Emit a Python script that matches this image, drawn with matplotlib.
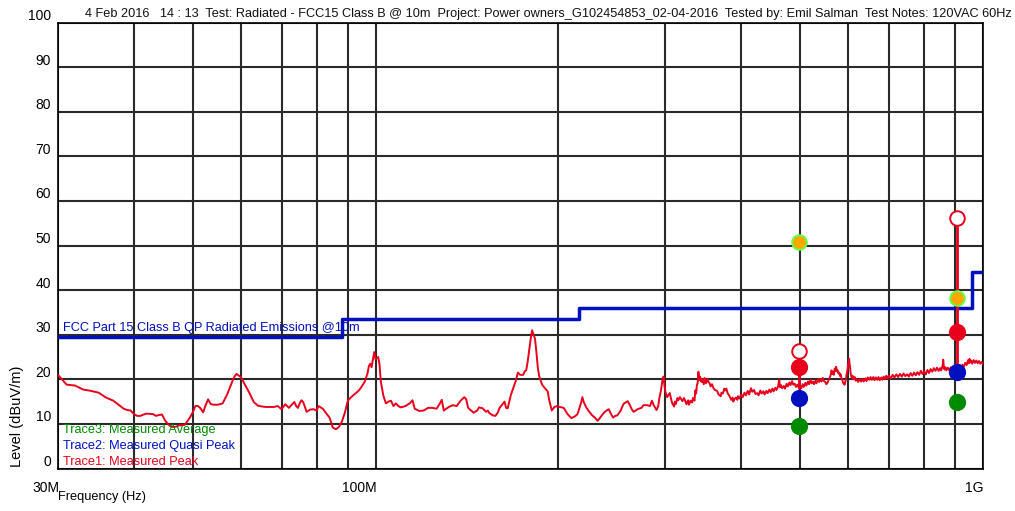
import matplotlib
matplotlib.use("Agg")
import matplotlib.pyplot as plt
import matplotlib.transforms as mtransforms
from matplotlib.ticker import FixedLocator, NullFormatter

# ---------------- data ----------------
title_text = ("4 Feb 2016   14 : 13  Test: Radiated - FCC15 Class B @ 10m  Project: Power "
              "owners_G102454853_02-04-2016  Tested by: Emil Salman  Test Notes: 120VAC 60Hz")

y_ticks = [0, 10, 20, 30, 40, 50, 60, 70, 80, 90, 100]
x_major_mhz = [30, 100, 1000]
x_major_labels = ["30M", "100M", "1G"]
x_minor_mhz = [40, 50, 60, 70, 80, 90, 200, 300, 400, 500, 600, 700, 800, 900]

limit_freq_mhz = [30, 88, 216, 960, 1000]
limit_level = [29.5, 33.5, 36.0, 44.0]

trace_freq_mhz = [
    30, 31, 32, 33, 34, 35, 36, 37, 38, 38.5, 39, 39.5, 40, 40.5, 41, 41.5, 42, 43, 43.5, 44,
    44.5, 45, 45.5, 46, 46.5, 47, 47.5, 48, 48.5, 49, 49.5, 50, 50.5, 51, 51.5, 52, 52.5, 53,
    53.5, 54, 55, 56, 57, 58, 58.5, 59, 60, 61, 62, 63, 64, 65, 66, 67, 68, 69, 70, 71, 72, 73,
    73.5, 74, 74.5, 75, 75.5, 76, 77, 78, 79, 80, 80.5, 81, 82, 83, 84, 85, 86, 87, 88, 89, 90,
    91, 92, 93, 94, 95, 96, 97, 97.5, 98, 98.5, 99, 99.5, 100, 101, 101.5, 102, 103, 104, 105,
    106, 107, 108, 109, 110, 112, 114, 115, 116, 118, 120, 122, 124, 126, 127.5, 128.5, 129.5,
    132, 134, 136, 138, 139, 140, 141, 142, 145, 147, 148, 150, 152, 153, 154, 156, 157.5, 159,
    160, 162, 163, 164, 165, 167, 170, 171.5, 173, 175, 176, 177, 178, 179, 180, 181, 182, 183,
    184, 185, 186, 188, 190, 192, 193, 195, 197, 199, 201, 204, 207, 210, 213, 215, 218, 219,
    220, 222, 224, 227, 230, 232, 234, 236, 238, 240, 242, 244, 246, 248, 250, 253, 256, 260,
    262, 264, 266, 270, 274, 276, 280, 283, 285, 287, 290, 292, 293, 295, 297, 298, 299,
    300, 302, 305, 307, 308, 310, 311, 312, 314, 315, 317, 320, 322, 325, 327, 328, 330, 332,
    333, 335, 336, 337, 338, 339, 340, 341, 342, 344, 345, 347, 348, 349, 350, 352, 353, 355,
    356, 358, 360, 362, 365, 367, 370, 371, 373, 375, 376, 378, 380, 382, 385, 387, 388, 390,
    392, 394, 395, 397, 400, 402, 405, 407, 410, 412, 415, 417, 420, 422, 425, 427, 430, 432,
    435, 437, 440, 442, 445, 447, 450, 452, 455, 457, 460, 462, 463, 465, 467, 470, 472, 475,
    477, 480, 482, 485, 487, 490, 492, 495, 497, 500, 502, 505, 507, 510, 512, 515, 517, 520,
    522, 525, 527, 530, 532, 535, 537, 540, 542, 545, 547, 550, 552, 555, 557, 560, 562, 563,
    565, 566, 568, 570, 572, 573, 575, 576, 578, 580, 582, 583, 585, 586, 588, 590, 592, 593,
    595, 596, 598, 600, 601, 602, 603, 604, 605, 606, 608, 610, 612, 615, 617, 620, 623, 626,
    630, 633, 636, 640, 643, 646, 650, 653, 656, 660, 663, 666, 670, 673, 676, 680, 683, 686,
    690, 693, 696, 700, 705, 710, 715, 720, 725, 730, 735, 740, 745, 750, 755, 760, 765, 770,
    775, 780, 785, 790, 795, 800, 805, 810, 815, 820, 825, 830, 835, 840, 845, 850, 853, 856,
    858, 860, 862, 864, 867, 870, 875, 880, 885, 890, 895, 900, 905, 910, 915, 920, 925, 930,
    935, 940, 945, 948, 950, 953, 956, 960, 965, 970, 975, 980, 985, 990, 995, 1000]

trace_level = [
    21.0, 18.8, 18.6, 17.7, 17.4, 17.0, 15.9, 15.2, 14.0, 13.4, 13.1, 13.0, 12.2, 11.8, 11.8,
    12.1, 12.3, 12.2, 11.8, 12.0, 12.1, 10.8, 10.0, 9.4, 9.3, 9.4, 9.7, 9.7, 9.8, 10.6, 11.5,
    12.6, 14.0, 14.0, 13.5, 12.6, 14.2, 15.5, 14.5, 14.3, 14.3, 14.6, 16.7, 19.3, 20.5, 21.2,
    20.5, 18.7, 16.9, 14.9, 14.1, 13.9, 13.8, 13.8, 13.8, 14.0, 13.3, 14.4, 13.6, 14.5, 14.9,
    14.0, 13.6, 14.6, 15.3, 14.9, 12.7, 13.2, 13.3, 13.0, 14.0, 13.8, 13.3, 12.3, 11.4, 9.2,
    8.8, 9.3, 10.5, 12.5, 15.2, 15.9, 16.5, 17.0, 17.6, 18.5, 19.5, 21.4, 23.0, 23.5, 22.7,
    24.5, 26.1, 24.5, 25.0, 23.3, 19.5, 16.3, 14.6, 15.0, 15.2, 14.0, 14.6, 14.0, 13.7, 14.0,
    14.7, 15.3, 13.4, 12.9, 13.0, 13.6, 13.6, 13.4, 14.5, 15.4, 13.0, 13.8, 14.2, 14.0, 15.2,
    15.6, 16.0, 15.5, 13.6, 12.5, 13.0, 13.7, 13.5, 12.7, 13.0, 12.4, 11.9, 11.8, 12.6, 13.6,
    14.5, 15.0, 13.6, 13.5, 16.5, 19.5, 21.5, 21.0, 21.0, 21.8, 22.0, 24.0, 26.5, 29.0, 31.0,
    30.0, 29.1, 26.0, 22.5, 20.6, 18.8, 18.0, 17.3, 15.5, 13.0, 13.8, 14.0, 13.8, 13.6, 12.2,
    11.3, 11.7, 12.2, 14.8, 16.0, 15.0, 13.8, 13.0, 12.0, 11.3, 10.7, 11.3, 12.0, 12.6, 13.0,
    13.3, 12.3, 11.4, 11.8, 11.9, 12.9, 14.5, 15.1, 14.3, 13.3, 12.7, 13.3, 13.6, 14.2, 14.2,
    14.0, 15.2, 14.2, 13.1, 14.0, 15.6, 17.5, 20.3, 20.6, 18.5,
    17.2, 16.0, 16.9, 15.2, 14.6, 13.9, 15.0, 14.4, 15.8, 15.3, 16.0, 15.1, 15.8, 14.4, 15.3,
    14.3, 15.2, 14.8, 15.8, 15.2, 17.5, 16.8, 18.6, 19.2, 21.7, 19.8, 20.6, 19.4, 20.0, 18.9,
    20.3, 19.5, 19.1, 20.1, 19.5, 19.0, 18.4, 18.9, 18.0, 17.6, 17.4, 16.6, 16.2, 17.0, 16.8,
    17.9, 17.5, 17.9, 16.8, 16.4, 15.4, 15.9, 15.0, 15.6, 15.9, 15.4, 16.2, 15.7, 16.6, 16.0,
    17.0, 16.4, 17.4, 16.6, 18.0, 17.2, 17.6, 16.7, 16.9, 16.4, 17.5, 16.8, 17.3, 16.6, 17.4,
    16.9, 17.7, 17.1, 17.9, 17.3, 18.1, 17.6, 18.5, 19.9, 18.2, 18.7, 18.0, 18.5, 17.9, 19.0,
    18.4, 19.3, 18.7, 19.6, 18.8, 19.0, 18.3, 18.8, 18.2, 18.6, 18.0, 18.9, 18.3, 19.2, 18.6,
    19.5, 18.9, 19.9, 19.1, 19.5, 18.9, 19.7, 19.1, 20.0, 19.4, 20.1, 19.5, 20.3, 19.6, 19.4,
    18.9, 19.3, 19.8, 20.6, 21.2, 22.0, 21.2, 21.7, 21.0, 22.4, 21.8, 22.8, 21.9, 22.1, 21.3,
    21.5, 20.7, 21.1, 20.2, 20.1, 19.3, 19.0, 18.8, 19.3, 20.2, 21.0, 22.0, 23.5, 24.0, 24.6,
    23.4, 23.0, 21.8, 21.0, 20.3, 20.8, 20.0, 20.5, 19.7, 20.0, 19.4, 20.0, 19.5, 20.1, 19.5,
    20.2, 19.6, 20.4, 19.9, 20.5, 19.9, 20.5, 19.8, 20.4, 19.9, 20.5, 19.8, 20.4, 19.9, 20.6,
    20.1, 20.8, 20.2, 20.8, 20.2, 21.0, 20.4, 21.1, 20.5, 21.2, 20.6, 21.3, 20.7, 21.1, 20.6,
    21.4, 20.8, 21.5, 20.9, 21.6, 21.0, 21.9, 21.2, 21.8, 21.1, 22.1, 21.4, 22.3, 21.7, 22.5,
    21.9, 22.6, 21.9, 22.5, 22.0, 22.6, 23.0, 24.4, 22.8, 22.2, 22.7, 22.0, 22.6, 22.0, 22.7,
    22.1, 22.6, 22.1, 22.8, 22.4, 23.2, 22.6, 23.3, 22.8, 23.7, 23.2, 24.3, 23.6, 24.6, 23.8,
    24.2, 23.5, 24.3, 23.7, 24.2, 23.6, 24.1, 23.5, 23.9, 23.4]

# measured points
meas_freq_mhz = [497, 906]
meas_peak_open = [26.3, 56.2]      # open red circles
meas_peak_trace = [17.8, 22.8]     # foot of the red drop lines
meas_other = [50.8, 38.2]          # orange points
meas_peak = [22.7, 30.5]           # Trace1
meas_qp = [15.8, 21.6]             # Trace2
meas_avg = [9.5, 15.0]             # Trace3

limit_label = "FCC Part 15 Class B QP Radiated Emissions @10m"
legend_labels = ["Trace3: Measured Average", "Trace2: Measured Quasi Peak", "Trace1: Measured Peak"]

# ---------------- style ----------------
plt.rcParams["font.family"] = ["Liberation Sans", "DejaVu Sans"]

RED = "#e8001c"
BLUE = "#0010c0"
GREEN = "#008a00"
GRID = "#2a2a2a"

W, H = 1015, 511
fig = plt.figure(figsize=(W / 100, H / 100), dpi=100)
ax = fig.add_axes([58 / W, 1 - 468.5 / H, (983 - 58) / W, (468.5 - 22.5) / H])

ax.set_xscale("log")
ax.set_xlim(30e6, 1000e6)
ax.set_ylim(0, 100)

ax.xaxis.set_major_locator(FixedLocator([f * 1e6 for f in x_major_mhz]))
ax.set_xticklabels(x_major_labels)
ax.xaxis.set_minor_locator(FixedLocator([f * 1e6 for f in x_minor_mhz]))
ax.xaxis.set_minor_formatter(NullFormatter())
ax.set_yticks(y_ticks)
ax.set_yticklabels([str(v) for v in y_ticks])

fs = 9.2
ax.grid(True, which="both", color=GRID, linewidth=1.5)
ax.set_axisbelow(True)
ax.tick_params(which="both", length=0)
ax.tick_params(axis="y", pad=5, labelsize=10)
ax.tick_params(axis="x", pad=9, labelsize=10)
for lab in ax.get_xticklabels():
    lab.set_horizontalalignment("right")
    lab.set_transform(lab.get_transform() + mtransforms.ScaledTranslation(1 / 100, 0, fig.dpi_scale_trans))
for lab in ax.get_yticklabels():
    lab.set_transform(lab.get_transform() + mtransforms.ScaledTranslation(0, 8 / 100, fig.dpi_scale_trans))
for s in ax.spines.values():
    s.set_color("black")
    s.set_linewidth(1.2)

# limit line
lf = [f * 1e6 for f in limit_freq_mhz]
ax.step(lf, limit_level + [limit_level[-1]], where="post", color=BLUE, linewidth=2.5, zorder=3)

# trace
ax.plot([f * 1e6 for f in trace_freq_mhz], trace_level, color=RED, linewidth=1.4, zorder=4)

# measurement markers
mf = [f * 1e6 for f in meas_freq_mhz]
ax.vlines(mf, meas_peak_trace, meas_peak_open, color=RED, linewidth=2, zorder=5)
ax.scatter(mf, meas_peak_open, s=110, facecolors="white", edgecolors=RED, linewidths=1.4, zorder=6)
ax.scatter(mf, meas_other, s=110, color="#ffa800", edgecolors="#66ff44", linewidths=1.4, zorder=6)
ax.scatter(mf, meas_peak, s=130, color=RED, zorder=6)
ax.scatter(mf, meas_qp, s=130, color=BLUE, zorder=6)
ax.scatter(mf, meas_avg, s=130, color=GREEN, zorder=6)

# texts
fig.text(85 / W, 1 - 14 / H, title_text, fontsize=fs, ha="left", va="center", color="#111111")
ax.text(0.005, 1 - (327.5 - 22.5) / 446, limit_label, transform=ax.transAxes, color=BLUE,
        fontsize=fs, ha="left", va="center", zorder=7)
for lab, yp, c in zip(legend_labels, [430, 446, 462], [GREEN, BLUE, RED]):
    ax.text(0.005, 1 - (yp - 22.5) / 446, lab, transform=ax.transAxes, color=c,
            fontsize=fs, ha="left", va="center", zorder=7)
fig.text(58 / W, 1 - 497 / H, "Frequency (Hz)", fontsize=fs, ha="left", va="center")
fig.text(17 / W, 1 - 416 / H, "Level (dBuV/m)", fontsize=10.5, ha="center", va="center", rotation=90)

fig.savefig("out.png", dpi=100)
